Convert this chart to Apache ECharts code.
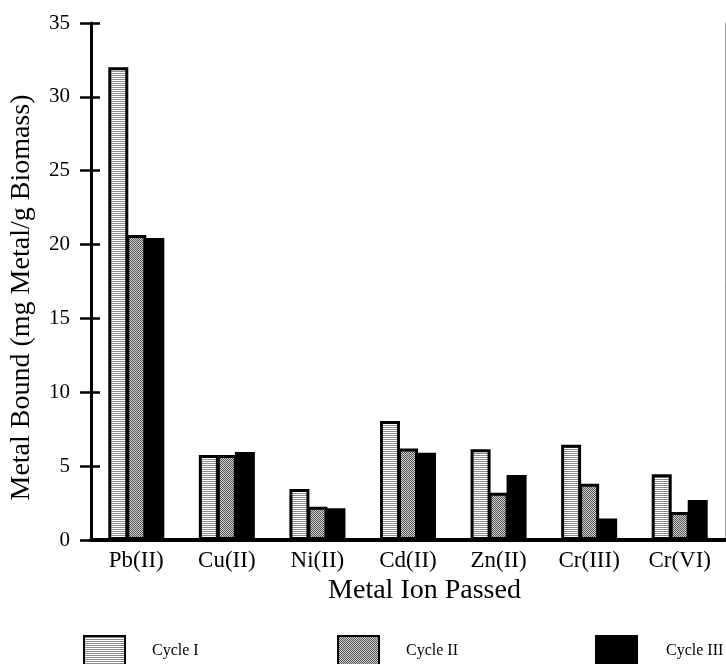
<!DOCTYPE html>
<html>
<head>
<meta charset="utf-8">
<script src="https://cdn.jsdelivr.net/npm/echarts@6/dist/echarts.min.js"></script>
<style>html,body{margin:0;padding:0;background:#fff}#c{width:726px;height:664px}</style>
</head>
<body>
<div id="c"></div>
<script>
var categories = ['Pb(II)', 'Cu(II)', 'Ni(II)', 'Cd(II)', 'Zn(II)', 'Cr(III)', 'Cr(VI)'];
var cycleI   = [32.0, 5.75, 3.45, 8.05, 6.15, 6.45, 4.45];
var cycleII  = [20.65, 5.75, 2.25, 6.2, 3.2, 3.8, 1.9];
var cycleIII = [20.45, 5.95, 2.15, 5.9, 4.4, 1.45, 2.7];
var seriesNames = ['Cycle I', 'Cycle II', 'Cycle III'];
var yTicks = [0, 5, 10, 15, 20, 25, 30, 35];

function makePattern(kind) {
  var c = document.createElement('canvas');
  var ctx = c.getContext('2d');
  if (kind === 'lines') {
    c.width = 4; c.height = 2;
    ctx.fillStyle = '#ffffff'; ctx.fillRect(0, 0, 4, 1);
    ctx.fillStyle = '#8c8c8c'; ctx.fillRect(0, 1, 4, 1);
  } else {
    c.width = 2; c.height = 2;
    ctx.fillStyle = '#d0d0d0'; ctx.fillRect(0, 0, 2, 2);
    ctx.fillStyle = '#555555'; ctx.fillRect(0, 0, 1, 1); ctx.fillRect(1, 1, 1, 1);
  }
  return { image: c, repeat: 'repeat' };
}

var serif = 'Liberation Serif';
var chart = echarts.init(document.getElementById('c'), null, { renderer: 'canvas' });
var fills = [makePattern('lines'), makePattern('dots'), '#000000'];
var datasets = [cycleI, cycleII, cycleIII];

var series = datasets.map(function (d, i) {
  return {
    name: seriesNames[i],
    type: 'bar',
    xAxisIndex: 0,
    yAxisIndex: 0,
    data: d,
    barWidth: 20,
    barGap: '-10%',
    itemStyle: { color: fills[i], borderColor: '#000', borderWidth: 3 },
    emphasis: { disabled: true }
  };
});

var legendLefts = [78, 332, 590];
var legendPads = [22, 22, 24];
var legends = seriesNames.map(function (n, i) {
  return {
    data: [{ name: n, icon: 'rect' }],
    left: legendLefts[i],
    top: 630,
    itemWidth: 41,
    itemHeight: 29,
    selectedMode: false,
    textStyle: { fontFamily: serif, fontSize: 16, color: '#000', padding: [0, 0, 0, legendPads[i]] }
  };
});

chart.setOption({
  animation: false,
  backgroundColor: '#fff',
  grid: { left: 81, right: 1, top: 23, bottom: 124, containLabel: false },
  legend: legends,
  xAxis: [
    {
      type: 'category', data: categories, position: 'bottom',
      name: 'Metal Ion Passed', nameLocation: 'middle', nameGap: 31,
      nameTextStyle: { fontFamily: serif, fontSize: 28, color: '#000', padding: [0, 0, 0, 33] },
      axisLine: { lineStyle: { color: '#000', width: 3 } },
      axisTick: { show: false },
      axisLabel: { fontFamily: serif, fontSize: 23, color: '#000', margin: 9 }
    },
    {
      type: 'category', data: categories, position: 'top',
      axisLine: { lineStyle: { color: '#000', width: 4 } },
      axisTick: { show: false }, axisLabel: { show: false }
    }
  ],
  yAxis: [
    {
      type: 'value', min: 0, max: 35, interval: 5, position: 'left',
      name: 'Metal Bound (mg Metal/g Biomass)', nameLocation: 'middle', nameGap: 55,
      nameTextStyle: { fontFamily: serif, fontSize: 28, color: '#000', padding: [0, 32, 0, 0] },
      axisLine: { show: true, lineStyle: { color: '#000', width: 3 } },
      axisTick: { show: true, length: 11, lineStyle: { color: '#000', width: 2.5 } },
      axisLabel: { fontFamily: serif, fontSize: 21, color: '#000', margin: 21,
        formatter: function (v) { return yTicks.indexOf(v) >= 0 ? String(v) : ''; } },
      splitLine: { show: false }
    },
    {
      type: 'value', min: 0, max: 35, interval: 5, position: 'left',
      axisLine: { show: false },
      axisTick: { show: true, inside: true, length: 9, lineStyle: { color: '#000', width: 2.5 } },
      axisLabel: { show: false }, splitLine: { show: false }
    },
    {
      type: 'value', min: 0, max: 35, position: 'right',
      axisLine: { show: true, lineStyle: { color: '#999', width: 1 } },
      axisTick: { show: false }, axisLabel: { show: false }, splitLine: { show: false }
    }
  ],
  series: series
});
</script>
</body>
</html>
